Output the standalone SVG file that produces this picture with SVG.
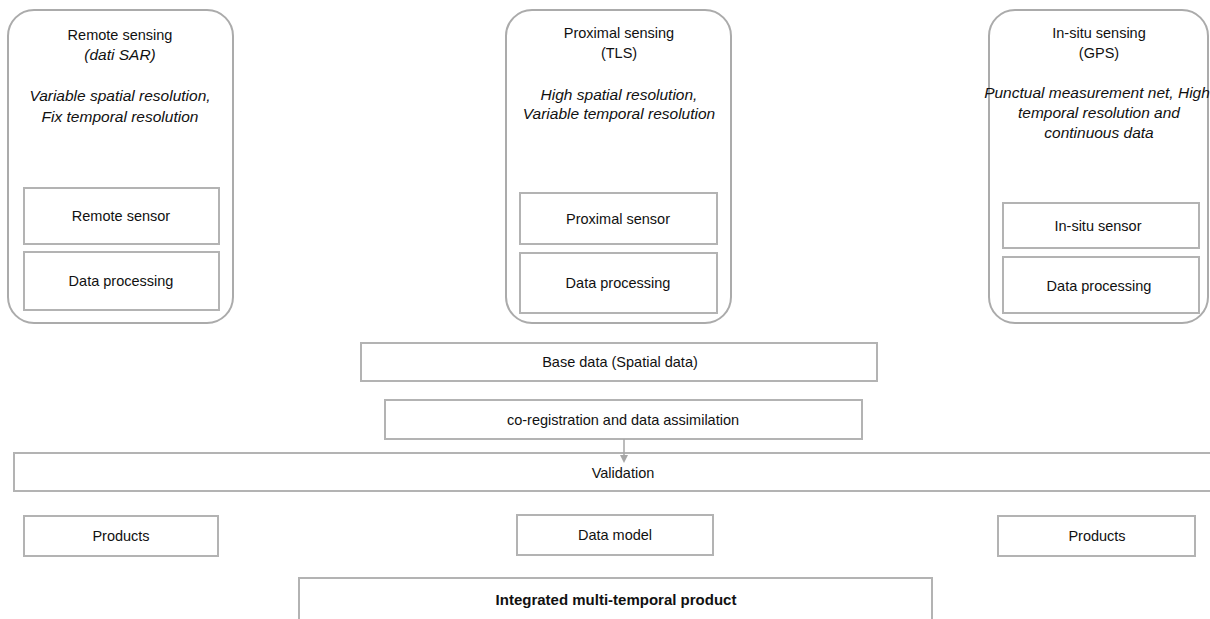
<svg xmlns="http://www.w3.org/2000/svg" width="1210" height="619" viewBox="0 0 1210 619">
<style>
.outer{fill:#fff;stroke:#ababab;stroke-width:2}
.box{fill:#fff;stroke:#b3b3b3;stroke-width:2}
text{font-family:"Liberation Sans",Arial,sans-serif;font-size:14.5px;fill:#111;text-anchor:middle}
.it{font-style:italic;font-size:15.5px}
.b{font-weight:bold;font-size:15px}
.conn{stroke:#a6a6a6;stroke-width:1.5;fill:none}
</style>
<defs>
<marker id="ah" markerWidth="8" markerHeight="8" refX="4" refY="4" orient="auto" markerUnits="userSpaceOnUse">
<path d="M0,0 L8,4 L0,8 Z" fill="#a6a6a6"/>
</marker>
</defs>
<rect width="1210" height="619" fill="#fff"/>
<g id="remote">
<rect class="outer" x="8" y="10" width="225" height="313" rx="26" ry="26"/>
<text x="120" y="40">Remote sensing</text>
<text x="120" y="60" class="it">(dati SAR)</text>
<text x="120" y="101" class="it">Variable spatial resolution,</text>
<text x="120" y="122" class="it">Fix temporal resolution</text>
</g>
<g id="remote-sensor">
<rect class="box" x="24" y="188" width="195" height="56"/>
<text x="121" y="221">Remote sensor</text>
</g>
<g id="remote-processing">
<rect class="box" x="24" y="252" width="195" height="58"/>
<text x="121" y="286">Data processing</text>
</g>
<g id="proximal">
<rect class="outer" x="506" y="10" width="225" height="313" rx="26" ry="26"/>
<text x="619" y="38">Proximal sensing</text>
<text x="619" y="58">(TLS)</text>
<text x="619" y="100" class="it">High spatial resolution,</text>
<text x="619" y="119" class="it">Variable temporal resolution</text>
</g>
<g id="proximal-sensor">
<rect class="box" x="520" y="193" width="197" height="51"/>
<text x="618" y="224">Proximal sensor</text>
</g>
<g id="proximal-processing">
<rect class="box" x="520" y="253" width="197" height="60"/>
<text x="618" y="288">Data processing</text>
</g>
<g id="insitu">
<rect class="outer" x="989" y="10" width="219" height="313" rx="26" ry="26"/>
<text x="1099" y="38">In-situ sensing</text>
<text x="1099" y="58">(GPS)</text>
<text x="1097" y="98" class="it">Punctual measurement net, High</text>
<text x="1099" y="118" class="it">temporal resolution and</text>
<text x="1099" y="138" class="it">continuous data</text>
</g>
<g id="insitu-sensor">
<rect class="box" x="1003" y="203" width="196" height="45"/>
<text x="1098" y="231">In-situ  sensor</text>
</g>
<g id="insitu-processing">
<rect class="box" x="1003" y="257" width="196" height="56"/>
<text x="1099" y="291">Data processing</text>
</g>
<g id="base-data">
<rect class="box" x="361" y="343" width="516" height="38"/>
<text x="620" y="367">Base data (Spatial data)</text>
</g>
<g id="coregistration">
<rect class="box" x="385" y="400" width="477" height="39"/>
<text x="623" y="425">co-registration and data assimilation</text>
</g>
<g id="validation">
<rect class="box" x="14" y="453" width="1210" height="38"/>
<text x="623" y="478">Validation</text>
</g>
<g id="products-left">
<rect class="box" x="24" y="516" width="194" height="40"/>
<text x="121" y="541">Products</text>
</g>
<g id="data-model">
<rect class="box" x="517" y="515" width="196" height="40"/>
<text x="615" y="540">Data model</text>
</g>
<g id="products-right">
<rect class="box" x="998" y="516" width="197" height="40"/>
<text x="1097" y="541">Products</text>
</g>
<g id="integrated">
<rect class="box" x="299" y="578" width="633" height="60"/>
<text x="616" y="605" class="b">Integrated multi-temporal product</text>
</g>
<g id="connectors">
<line class="conn" x1="624" y1="439" x2="624" y2="459" marker-end="url(#ah)"/>
</g>
</svg>
